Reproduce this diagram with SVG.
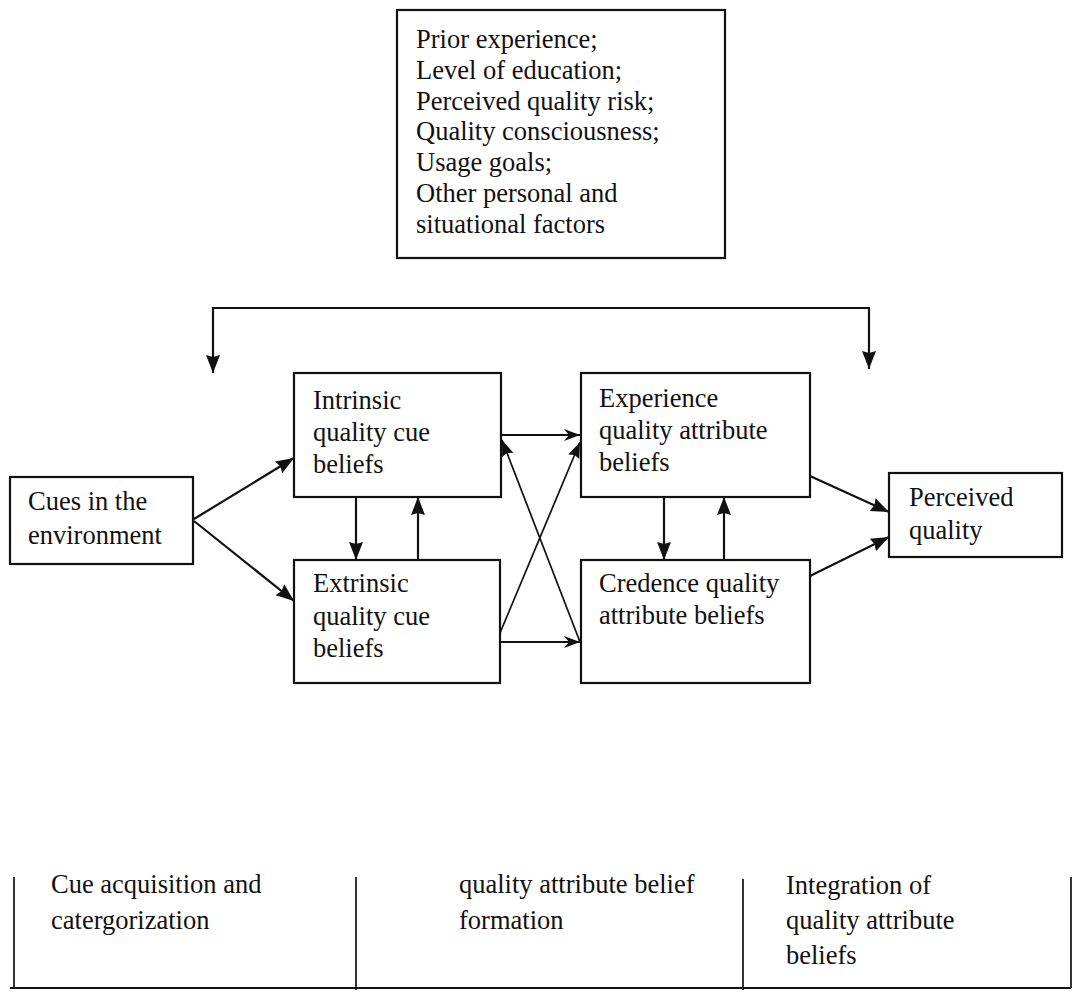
<svg xmlns="http://www.w3.org/2000/svg" width="1074" height="995" viewBox="0 0 1074 995">
  <style>
    .box { fill: #ffffff; stroke: #111111; stroke-width: 2.2; }
    .t { font-family: "Liberation Serif", "Times New Roman", serif; font-size: 26.5px; fill: #111111; }
    .c { fill: none; stroke: #111111; stroke-width: 2.2; }
    .thin { fill: none; stroke: #111111; stroke-width: 1.7; }
  </style>
  <defs>
    <marker id="ah" markerUnits="userSpaceOnUse" markerWidth="20" markerHeight="16" refX="18" refY="7" orient="auto-start-reverse">
      <path d="M0,0 L18,7 L0,14 L2,7 z" fill="#111111"/>
    </marker>
    <marker id="ahm" markerUnits="userSpaceOnUse" markerWidth="18" markerHeight="14" refX="16" refY="6" orient="auto">
      <path d="M0,0 L16,6 L0,12 L2,6 z" fill="#111111"/>
    </marker>
    <marker id="ahs" markerUnits="userSpaceOnUse" markerWidth="18" markerHeight="14" refX="16" refY="6" orient="auto">
      <path d="M0,0 L16,6 L0,12 L5,6 z" fill="#111111"/>
    </marker>
  </defs>
  <rect width="1074" height="995" fill="#ffffff"/>

  <g id="factors">
    <rect class="box" x="397" y="10" width="328" height="248"/>
    <text class="t">
      <tspan x="416" y="48">Prior experience;</tspan>
      <tspan x="416" y="78.8">Level of education;</tspan>
      <tspan x="416" y="109.6">Perceived quality risk;</tspan>
      <tspan x="416" y="140.4">Quality consciousness;</tspan>
      <tspan x="416" y="171.2">Usage goals;</tspan>
      <tspan x="416" y="202">Other personal and</tspan>
      <tspan x="416" y="232.8">situational factors</tspan>
    </text>
  </g>

  <g id="cues">
    <rect class="box" x="10" y="477" width="183" height="87"/>
    <text class="t"><tspan x="28" y="510">Cues in the</tspan><tspan x="28" y="544">environment</tspan></text>
  </g>

  <g id="intrinsic">
    <rect class="box" x="294" y="373" width="207" height="124"/>
    <text class="t"><tspan x="313" y="409">Intrinsic</tspan><tspan x="313" y="441">quality cue</tspan><tspan x="313" y="473">beliefs</tspan></text>
  </g>

  <g id="extrinsic">
    <rect class="box" x="294" y="560" width="206" height="123"/>
    <text class="t"><tspan x="313" y="592">Extrinsic</tspan><tspan x="313" y="625">quality cue</tspan><tspan x="313" y="657">beliefs</tspan></text>
  </g>

  <g id="experience">
    <rect class="box" x="581" y="373" width="229" height="124"/>
    <text class="t"><tspan x="599" y="407">Experience</tspan><tspan x="599" y="439">quality attribute</tspan><tspan x="599" y="471">beliefs</tspan></text>
  </g>

  <g id="credence">
    <rect class="box" x="581" y="560" width="229" height="123"/>
    <text class="t"><tspan x="599" y="592">Credence quality</tspan><tspan x="599" y="624">attribute beliefs</tspan></text>
  </g>

  <g id="perceived">
    <rect class="box" x="889" y="473" width="173" height="84"/>
    <text class="t"><tspan x="909" y="506">Perceived</tspan><tspan x="909" y="539">quality</tspan></text>
  </g>

  <g id="connectors">
    <path class="c" d="M213,373 V308 H869 V369" marker-start="url(#ah)" marker-end="url(#ah)"/>
    <path class="c" d="M194,519 L294,458" marker-end="url(#ah)"/>
    <path class="c" d="M194,521 L294,601" marker-end="url(#ah)"/>
    <path class="c" d="M356,497 V560" marker-end="url(#ah)"/>
    <path class="c" d="M418,560 V497" marker-end="url(#ah)"/>
    <path class="c" d="M501,435 H580" marker-end="url(#ahs)"/>
    <path class="c" d="M500,642 H580" marker-end="url(#ahs)"/>
    <path class="thin" d="M500,633 L580,442" marker-end="url(#ahm)"/>
    <path class="thin" d="M580,642 L502,440" marker-end="url(#ahm)"/>
    <path class="c" d="M664,497 V560" marker-end="url(#ah)"/>
    <path class="c" d="M724,560 V497" marker-end="url(#ah)"/>
    <path class="c" d="M810,476 L889,512" marker-end="url(#ah)"/>
    <path class="c" d="M810,576 L889,537" marker-end="url(#ah)"/>
  </g>

  <g id="stages">
    <path class="c" d="M10,988 H1071"/>
    <path class="thin" d="M14,877 V988"/>
    <path class="thin" d="M356,877 V990"/>
    <path class="thin" d="M743,879 V990"/>
    <path class="thin" d="M1071,877 V988"/>
    <text class="t"><tspan x="51" y="893">Cue acquisition and</tspan><tspan x="51" y="929">catergorization</tspan></text>
    <text class="t"><tspan x="459" y="893">quality attribute belief</tspan><tspan x="459" y="929">formation</tspan></text>
    <text class="t"><tspan x="786" y="894">Integration of</tspan><tspan x="786" y="929">quality attribute</tspan><tspan x="786" y="964">beliefs</tspan></text>
  </g>
</svg>
